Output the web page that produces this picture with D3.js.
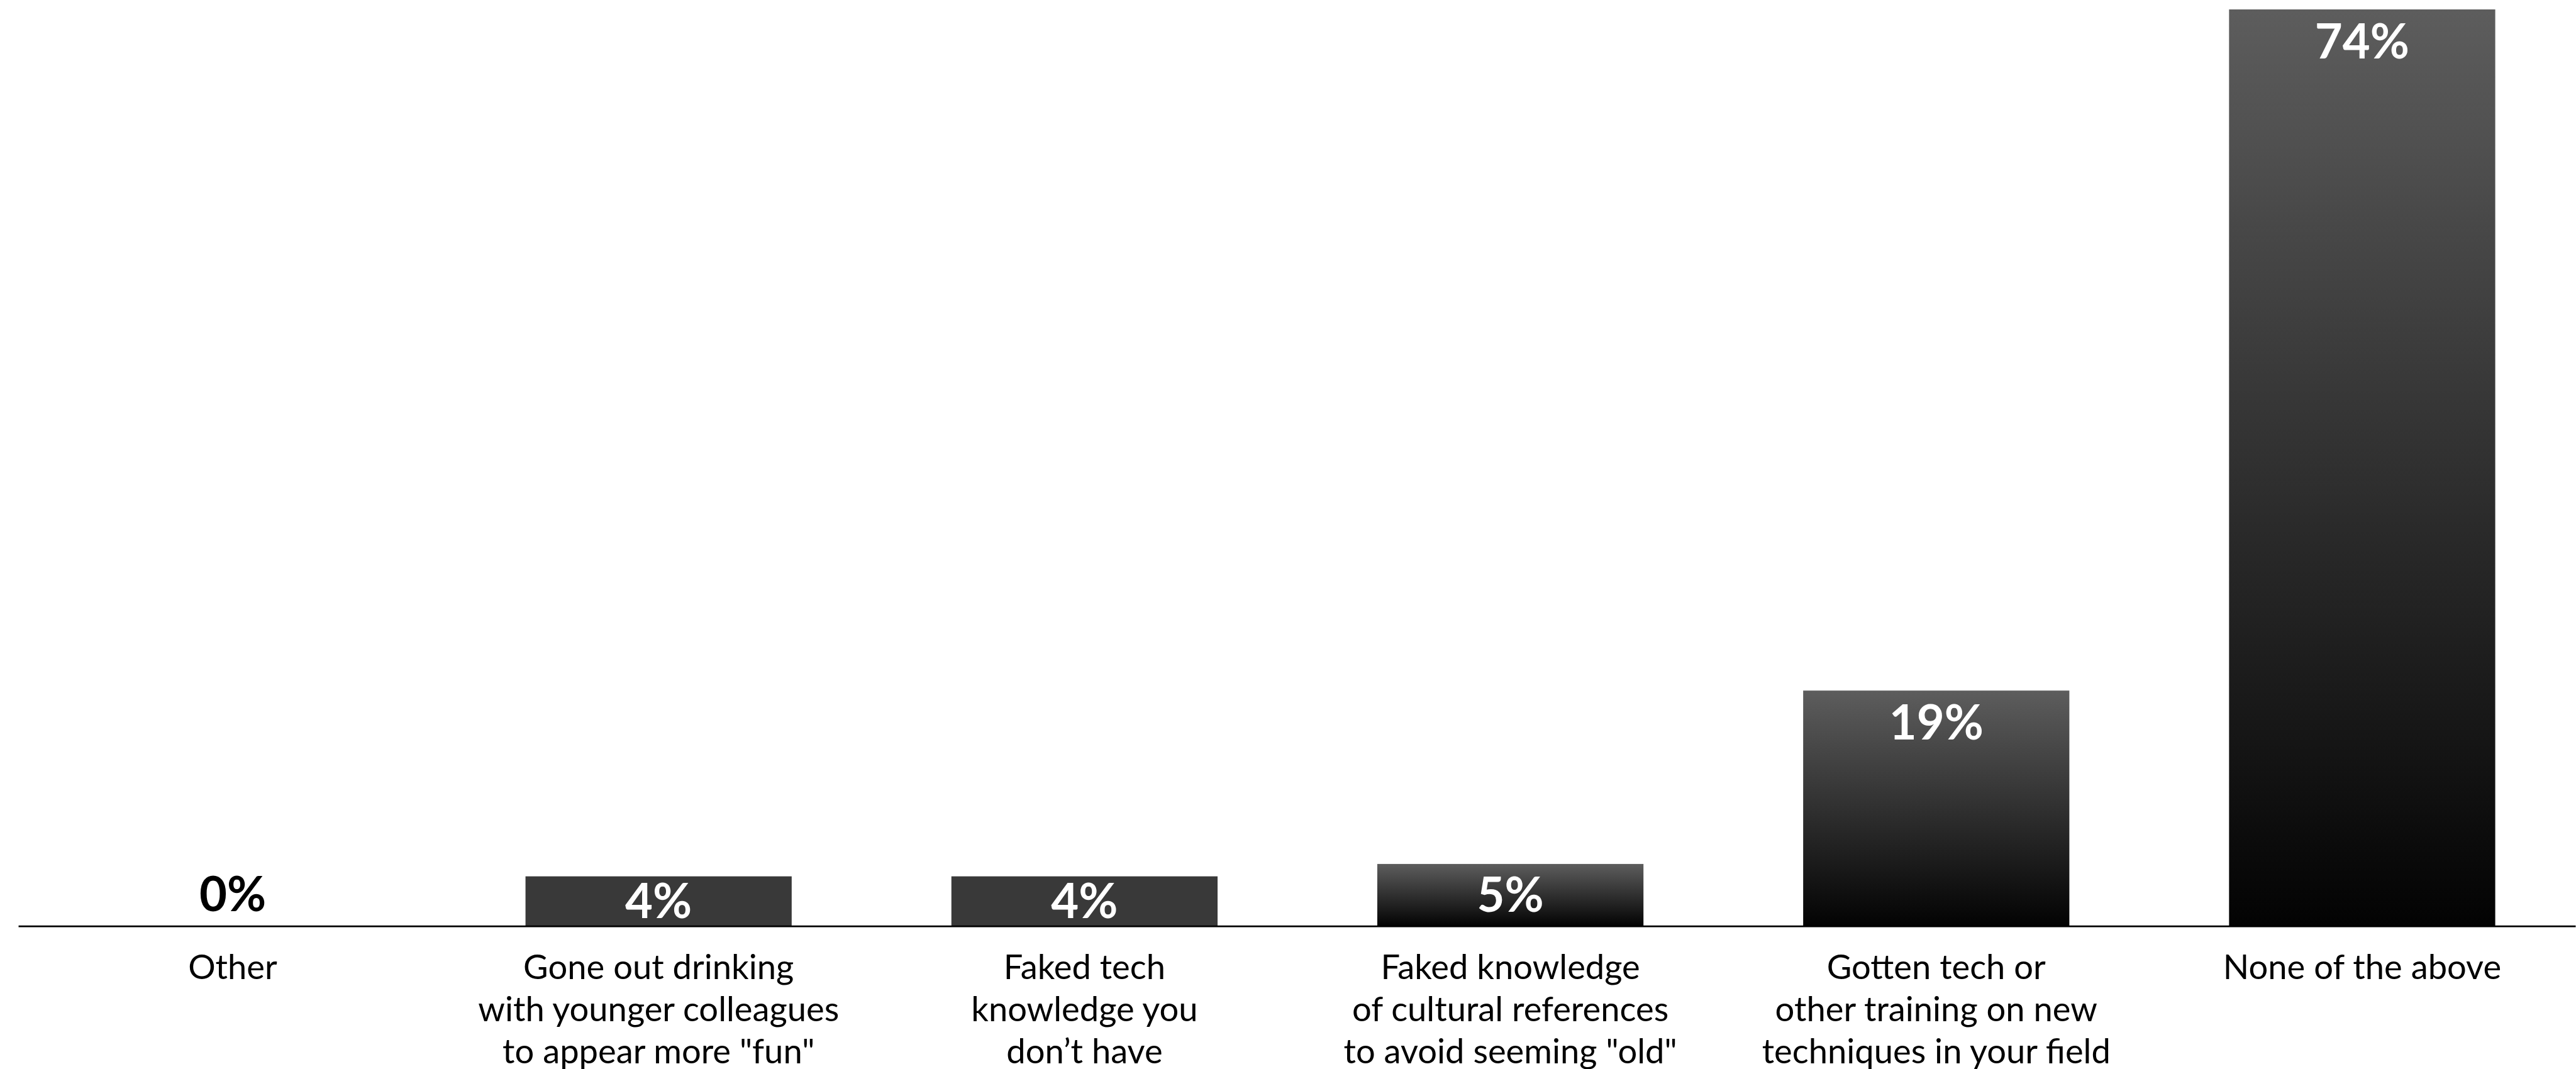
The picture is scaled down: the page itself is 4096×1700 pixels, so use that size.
<!DOCTYPE html>
<html>
<head>
<meta charset="utf-8">
<script src="https://cdn.jsdelivr.net/npm/d3@7"></script>
<style>
  html, body { margin: 0; padding: 0; background: #ffffff; }
  svg { display: block; }
  text { font-family: Lato, "Noto Sans", sans-serif; }
</style>
</head>
<body>
<svg id="chart"></svg>
<script>
// Survey answers and the share of respondents choosing each one
const categories = [
  "Other",
  "Gone out drinking with younger colleagues to appear more \"fun\"",
  "Faked tech knowledge you don’t have",
  "Faked knowledge of cultural references to avoid seeming \"old\"",
  "Gotten tech or other training on new techniques in your field",
  "None of the above"
];
const categoryLines = [
  ["Other"],
  ["Gone out drinking", "with younger colleagues", "to appear more \"fun\""],
  ["Faked tech", "knowledge you", "don’t have"],
  ["Faked knowledge", "of cultural references", "to avoid seeming \"old\""],
  ["Gotten tech or", "other training on new", "techniques in your field"],
  ["None of the above"]
];
const values = [0, 4, 4, 5, 19, 74];
const valueLabels = ["0%", "4%", "4%", "5%", "19%", "74%"];

// Drawing space (scaled down to the window by the viewBox)
const W = 4372, H = 1815;
const svg = d3.select("#chart")
  .attr("width", 4096)
  .attr("height", 1700)
  .attr("viewBox", `0 0 ${W} ${H}`);

const baseY = 1572;
const x = d3.scaleBand()
  .domain(categories)
  .range([33, 4371])
  .paddingInner(0.375)
  .paddingOuter(0.1875);

const y = d3.scaleLinear()
  .domain([0, d3.max(values)])
  .range([baseY, 16]);

// Vertical shading used on most bars
const defs = svg.append("defs");
const grad = defs.append("linearGradient")
  .attr("id", "barShade")
  .attr("x1", 0).attr("y1", 0).attr("x2", 0).attr("y2", 1);
grad.append("stop").attr("offset", "0%").attr("stop-color", "#5d5d5d");
grad.append("stop").attr("offset", "100%").attr("stop-color", "#030303");

const flatBars = new Set([categories[1], categories[2]]);

const data = categories.map((c, i) => ({ cat: c, value: values[i], label: valueLabels[i], lines: categoryLines[i] }));

// Bars
svg.append("g")
  .selectAll("rect")
  .data(data.filter(d => d.value > 0))
  .join("rect")
  .attr("x", d => x(d.cat))
  .attr("y", d => y(d.value))
  .attr("width", x.bandwidth())
  .attr("height", d => baseY - y(d.value))
  .attr("fill", d => flatBars.has(d.cat) ? "#393939" : "url(#barShade)");

// Value labels: inside the top of the bar, centred when the bar is short,
// above the baseline when there is no bar
const fs = 81, capH = fs * 0.7165;
svg.append("g")
  .selectAll("text")
  .data(data)
  .join("text")
  .attr("x", d => x(d.cat) + x.bandwidth() / 2)
  .attr("y", d => {
    if (d.value === 0) return baseY - 25;
    const top = y(d.value);
    return Math.min(top + 25 + capH, (top + baseY) / 2 + capH / 2);
  })
  .attr("text-anchor", "middle")
  .attr("font-size", fs)
  .attr("font-weight", 700)
  .attr("fill", d => d.value === 0 ? "#000000" : "#ffffff")
  .text(d => d.label);

// Category axis with multi-line labels
const axis = svg.append("g")
  .attr("transform", `translate(0,${baseY})`)
  .call(d3.axisBottom(x).tickSize(0).tickSizeOuter(0).tickPadding(0));

axis.select(".domain")
  .attr("stroke", "#000")
  .attr("stroke-width", 3)
  .attr("d", `M31,0.7H${W}`);

axis.selectAll(".tick text").each(function(cat) {
  const lines = categoryLines[categories.indexOf(cat)];
  const t = d3.select(this)
    .text(null)
    .attr("y", 0)
    .attr("dy", null)
    .attr("font-size", 58)
    .attr("font-family", "Lato, 'Noto Sans', sans-serif")
    .attr("fill", "#000");
  lines.forEach((ln, j) => {
    t.append("tspan")
      .attr("x", 0)
      .attr("y", 90 + j * 71.7)
      .text(ln);
  });
});
</script>
</body>
</html>
